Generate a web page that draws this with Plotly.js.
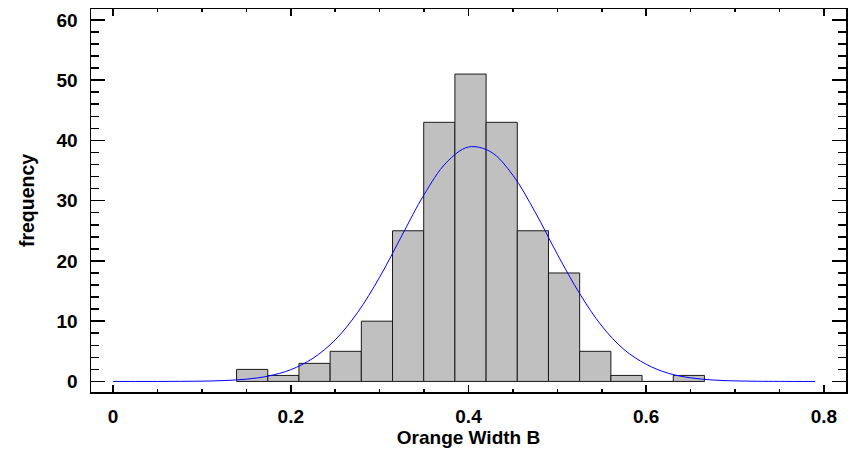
<!DOCTYPE html>
<html>
<head>
<meta charset="utf-8">
<script src="https://cdn.plot.ly/plotly-3.0.1.min.js"></script>
<style>html,body{margin:0;padding:0;background:#fff;}#chart{width:859px;height:454px;}</style>
</head>
<body>
<div id="chart"></div>
<script>
// Histogram bins (lower edges) and counts
const binLeft = [0.139, 0.1741, 0.2092, 0.2443, 0.2794, 0.3145, 0.3496, 0.3847, 0.4198, 0.4549, 0.4900, 0.5251, 0.5602, 0.5953, 0.6304];
const binWidth = 0.0351;
const counts = [2, 1, 3, 5, 10, 25, 43, 51, 43, 25, 18, 5, 1, 0, 1];

// Fitted normal curve
const curveX = [0, 0.025, 0.05, 0.075, 0.1, 0.125, 0.15, 0.175, 0.2, 0.225, 0.25, 0.275, 0.3, 0.325, 0.35, 0.375, 0.4, 0.425, 0.45, 0.475, 0.5, 0.525, 0.55, 0.575, 0.6, 0.625, 0.65, 0.675, 0.7, 0.725, 0.75, 0.79];
const curveY = [0, 0, 0, 0.02, 0.05, 0.15, 0.38, 0.9, 1.95, 3.85, 6.9, 11.4, 17.3, 24.2, 31.0, 36.3, 38.9, 38.1, 34.2, 28.1, 21.1, 14.6, 9.2, 5.3, 2.85, 1.35, 0.6, 0.24, 0.09, 0.03, 0.01, 0];

const xTickVals = [0, 0.2, 0.4, 0.6, 0.8];
const xTickText = ['0', '0.2', '0.4', '0.6', '0.8'];
const yTickVals = [0, 10, 20, 30, 40, 50, 60];

const labelFont = {family: 'Liberation Sans, Arial, sans-serif', size: 19, color: '#000', weight: 'bold'};
const yTitleFont = {family: 'Liberation Sans, Arial, sans-serif', size: 19.5, color: '#000', weight: 'bold'};

const traces = [
  {
    type: 'bar',
    x: binLeft,
    y: counts,
    width: binWidth,
    offset: 0,
    marker: {color: '#c0c0c0', line: {color: '#1a1a1a', width: 1}},
    hoverinfo: 'skip'
  },
  {
    type: 'scatter',
    mode: 'lines',
    x: curveX,
    y: curveY,
    line: {color: '#0000ff', width: 1, shape: 'spline'},
    hoverinfo: 'skip'
  }
];

const layout = {
  width: 859,
  height: 454,
  margin: {l: 91, r: 13, t: 9, b: 62},
  paper_bgcolor: '#fff',
  plot_bgcolor: '#fff',
  showlegend: false,
  bargap: 0,
  font: labelFont,
  xaxis: {
    range: [-0.0248, 0.8248],
    tickvals: xTickVals,
    ticktext: xTickText,
    ticks: 'inside',
    ticklen: 7,
    tickwidth: 1.5,
    tickcolor: '#000',
    showline: true,
    linecolor: '#000',
    linewidth: 1.5,
    mirror: 'allticks',
    showgrid: false,
    zeroline: false,
    tickfont: labelFont,
    ticklabelstandoff: 7,
    minor: {dtick: 0.05, tick0: 0, ticks: 'inside', ticklen: 3, tickwidth: 1.5, tickcolor: '#000', showgrid: false},
    title: {text: 'Orange Width B', font: labelFont, standoff: 0}
  },
  yaxis: {
    range: [-1.75, 61.8],
    tickvals: yTickVals,
    ticks: 'inside',
    ticklen: 14,
    tickwidth: 1.5,
    tickcolor: '#000',
    showline: true,
    linecolor: '#000',
    linewidth: 1.5,
    mirror: 'allticks',
    showgrid: false,
    zeroline: false,
    tickfont: labelFont,
    ticklabelstandoff: 8,
    minor: {dtick: 2, tick0: 0, ticks: 'inside', ticklen: 8, tickwidth: 1.5, tickcolor: '#000', showgrid: false},
    title: {text: 'frequency', font: yTitleFont, standoff: 16}
  }
};

Plotly.newPlot('chart', traces, layout, {staticPlot: true, displayModeBar: false});
</script>
</body>
</html>
